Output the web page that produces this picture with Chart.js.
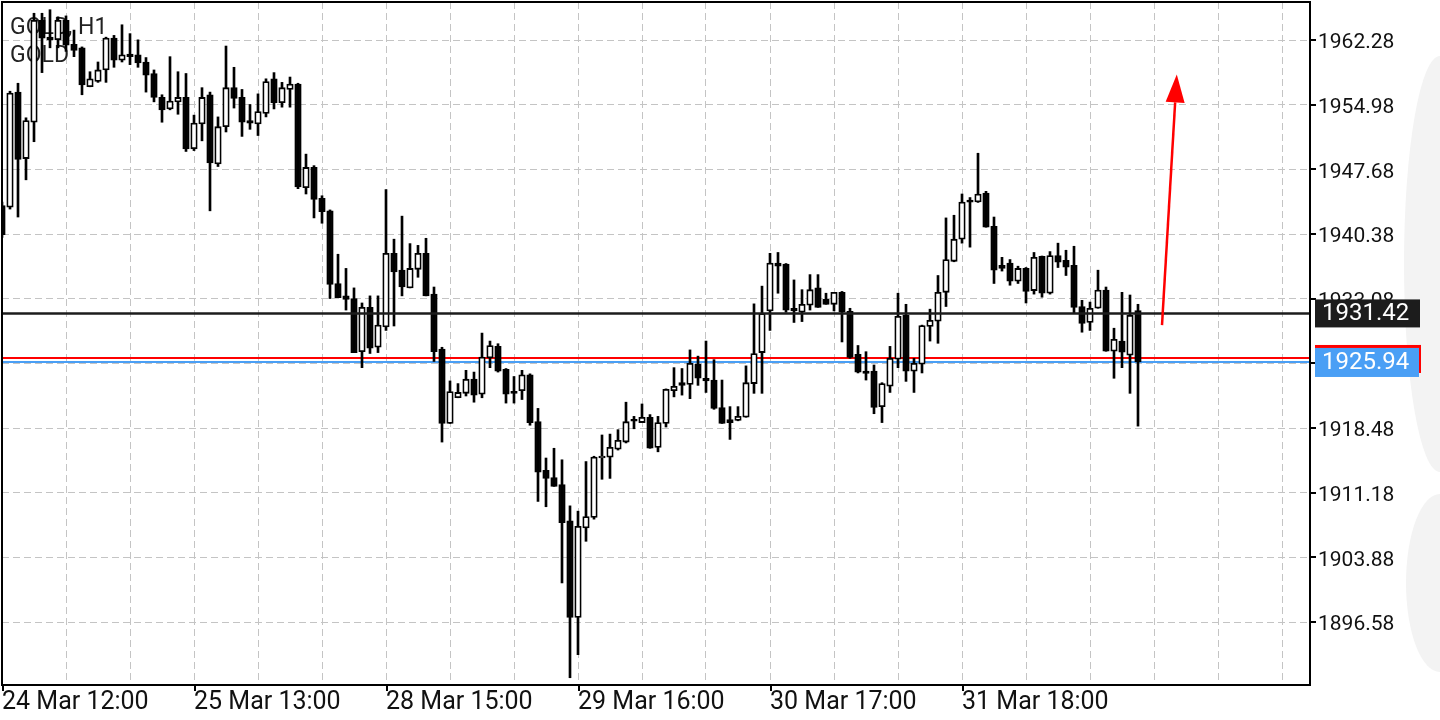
<!DOCTYPE html>
<html><head><meta charset="utf-8">
<script src="https://cdn.jsdelivr.net/npm/chart.js@4.4.1/dist/chart.umd.min.js"></script>
<style>
html,body{margin:0;padding:0;background:#fff;overflow:hidden;}
#wrap{position:relative;width:1440px;height:720px;}
.blob{position:absolute;background:#f3f3f3;}
canvas{position:absolute;left:0;top:0;}
</style></head><body>
<div id="wrap">
<div class="blob" style="left:1404px;top:56px;width:36px;height:416px;border-radius:36px 0 0 36px / 208px 0 0 208px;"></div>
<div class="blob" style="left:1406px;top:494px;width:34px;height:178px;border-radius:34px 0 0 34px / 89px 0 0 89px;"></div>
<canvas id="c" width="1440" height="720"></canvas>
</div>
<script>
const symbolTitle = 'GOLD, H1';
const symbolName = 'GOLD';

const opens = [1943.6,1943.4,1956.4,1948.9,1953.0,1964.5,1962.6,1962.3,1964.5,1961.8,
1961.4,1957.0,1957.6,1958.9,1962.5,1960.0,1960.7,1960.6,1959.8,1958.5,
1955.8,1954.5,1955.3,1955.8,1950.0,1952.8,1956.1,1948.3,1952.5,1956.9,
1955.8,1953.2,1952.8,1954.0,1957.9,1955.2,1956.7,1957.3,1945.6,1947.9,
1944.4,1943.0,1934.8,1933.4,1933.1,1927.1,1932.1,1927.6,1929.9,1938.2,
1936.3,1934.3,1936.4,1938.2,1933.6,1927.4,1919.0,1921.9,1922.4,1924.0,
1922.3,1926.4,1927.7,1925.1,1922.6,1922.7,1924.5,1919.2,1913.7,1912.9,
1912.1,1908.0,1897.1,1907.2,1908.4,1915.1,1915.2,1916.1,1916.9,1919.45,
1919.1,1919.7,1916.3,1919.0,1922.7,1923.6,1923.4,1925.7,1924.1,1923.9,
1920.8,1919.45,1919.35,1919.7,1923.5,1927.0,1931.7,1937.1,1937.0,1932.0,
1931.55,1932.35,1934.3,1933.0,1932.45,1933.8,1931.65,1926.8,1924.9,1924.9,
1920.9,1923.2,1926.25,1931.2,1924.9,1925.7,1929.95,1930.55,1933.8,1937.3,
1939.8,1944.2,1944.0,1945.0,1941.25,1936.85,1937.1,1935.05,1936.5,1934.0,
1937.85,1933.7,1937.95,1937.4,1936.85,1932.2,1930.4,1932.0,1934.05,1927.15,
1928.3,1926.7,1931.75];
const highs = [1944.0,1956.5,1957.4,1953.5,1965.3,1965.3,1965.7,1964.9,1965.0,1963.4,
1961.5,1958.7,1959.8,1962.6,1962.8,1964.0,1963.0,1962.3,1960.3,1958.9,
1956.1,1960.4,1958.7,1958.5,1953.8,1956.9,1956.4,1953.6,1961.6,1959.2,
1956.7,1955.0,1956.2,1957.9,1958.6,1957.5,1958.1,1957.4,1949.4,1948.1,
1944.7,1943.1,1938.1,1936.5,1934.3,1932.6,1933.4,1933.4,1945.4,1939.8,
1942.4,1939.3,1939.1,1939.9,1934.4,1927.6,1923.8,1923.5,1925.0,1924.8,
1929.2,1928.3,1928.0,1925.2,1924.3,1925.0,1924.6,1920.7,1915.1,1916.2,
1914.9,1909.7,1909.1,1914.7,1915.3,1917.7,1917.8,1918.3,1921.4,1919.8,
1921.2,1920.0,1919.8,1922.9,1925.3,1925.2,1927.3,1926.6,1928.3,1926.2,
1923.9,1920.9,1920.9,1925.5,1932.5,1934.5,1938.2,1938.3,1937.05,1935.2,
1934.1,1935.8,1935.8,1933.7,1933.8,1933.9,1932.0,1927.8,1927.1,1925.6,
1923.6,1927.7,1933.7,1932.45,1926.35,1930.1,1931.9,1935.7,1942.2,1942.5,
1944.9,1944.5,1949.5,1945.2,1942.3,1937.75,1937.5,1936.75,1936.6,1938.3,
1937.9,1938.4,1939.35,1938.55,1939.0,1932.9,1932.7,1936.3,1934.4,1929.75,
1933.8,1933.5,1932.45];
const lows = [1940.0,1943.2,1942.3,1946.5,1950.8,1958.6,1961.4,1961.4,1961.0,1960.4,
1956.1,1957.0,1957.5,1957.5,1959.2,1959.8,1959.5,1959.2,1956.4,1955.3,
1953.0,1954.4,1953.9,1949.7,1949.8,1950.9,1943.0,1948.0,1951.9,1954.6,
1951.4,1952.2,1951.5,1953.6,1954.5,1954.7,1954.7,1945.5,1944.9,1942.2,
1941.6,1933.1,1933.2,1931.8,1927.0,1925.3,1926.9,1927.0,1929.5,1930.0,
1933.4,1934.3,1935.5,1933.4,1926.0,1916.9,1919.0,1921.9,1922.1,1921.4,
1921.9,1925.3,1924.8,1921.3,1921.3,1921.7,1918.8,1910.2,1909.6,1911.9,
1901.0,1890.3,1892.9,1905.7,1908.2,1912.7,1912.8,1916.0,1916.8,1918.4,
1919.1,1916.2,1915.8,1918.6,1922.0,1922.2,1921.8,1923.3,1922.5,1920.6,
1919.0,1917.2,1919.3,1919.7,1922.4,1922.4,1929.5,1933.7,1931.55,1930.4,
1930.5,1931.8,1932.1,1932.45,1931.7,1928.2,1926.35,1924.7,1923.9,1920.1,
1919.1,1922.5,1925.3,1923.75,1922.5,1924.7,1928.3,1928.05,1932.2,1937.25,
1939.35,1938.9,1943.95,1941.15,1934.8,1936.2,1934.6,1934.8,1932.6,1933.6,
1933.25,1933.6,1936.6,1935.7,1931.45,1929.3,1929.5,1932.0,1927.15,1924.1,
1925.3,1922.4,1918.7];
const closes = [1940.3,1956.3,1948.8,1953.2,1964.5,1962.5,1962.3,1964.5,1961.7,1961.1,
1957.2,1957.9,1958.9,1962.5,1960.0,1960.6,1960.4,1959.7,1958.3,1955.8,
1954.4,1955.4,1955.8,1950.0,1952.9,1955.8,1948.4,1952.5,1956.9,1955.7,
1953.0,1952.9,1954.2,1957.6,1955.2,1956.9,1957.3,1945.7,1947.9,1944.3,
1942.9,1934.7,1933.2,1933.0,1927.0,1932.1,1927.5,1930.1,1938.2,1936.1,
1934.4,1936.5,1938.2,1933.4,1927.1,1919.0,1922.6,1922.5,1924.0,1922.2,
1926.5,1927.8,1924.9,1922.3,1922.4,1924.5,1919.1,1913.5,1912.8,1911.9,
1907.8,1897.1,1907.4,1908.5,1915.2,1915.2,1916.3,1917.1,1919.2,1919.25,
1919.7,1916.2,1919.1,1922.85,1923.2,1923.3,1925.8,1924.1,1923.8,1920.7,
1919.0,1919.1,1919.8,1923.6,1926.9,1931.4,1937.1,1936.75,1931.8,1931.7,
1932.45,1934.1,1932.1,1932.45,1933.8,1931.55,1926.45,1924.8,1924.65,1920.8,
1923.5,1926.35,1931.1,1924.9,1925.8,1930.05,1930.65,1933.8,1937.5,1939.8,
1944.0,1943.97,1944.9,1941.15,1936.3,1936.5,1935.05,1936.5,1933.9,1937.75,
1933.7,1937.95,1937.2,1936.65,1932.1,1930.3,1932.0,1934.05,1927.15,1928.5,
1927.05,1931.2,1925.94];

const tickIndex = [0, 24, 48, 72, 96, 120];
const tickLabels = ['24 Mar 12:00', '25 Mar 13:00', '28 Mar 15:00', '29 Mar 16:00', '30 Mar 17:00', '31 Mar 18:00'];
const priceTicks = [1962.28, 1954.98, 1947.68, 1940.38, 1933.08, 1925.78, 1918.48, 1911.18, 1903.88, 1896.58];

const levelPrice = 1931.42;
const askPrice = 1926.40;
const bidPrice = 1925.94;
const arrowStart = {x: 145.0, y: 1930.1};
const arrowEnd = {x: 146.85, y: 1958.4};

const yMax = 1966.57;
const yMin = 1889.48;
const xMax = 163.5;

const idx = opens.map((_, i) => i);
const wickData = idx.map(i => ({x: i, y: [lows[i], highs[i]]}));
const bodyData = idx.map(i => ({x: i, y: [Math.min(opens[i], closes[i]), Math.max(opens[i], closes[i])]}));
const bodyFill = idx.map(i => closes[i] >= opens[i] ? '#ffffff' : '#000000');

const overlay = {
  id: 'overlay',
  beforeDatasetsDraw(chart) {
    const {ctx, chartArea: a, scales: {y}} = chart;
    ctx.save();
    ctx.fillStyle = '#222';
    ctx.font = '23px Roboto';
    ctx.textBaseline = 'middle';
    ctx.textAlign = 'left';
    ctx.fillText(symbolTitle, 10, 28);
    ctx.fillText(symbolName, 10, 56);
    ctx.lineWidth = 2;
    ctx.strokeStyle = '#ff0000';
    let py = Math.round(y.getPixelForValue(askPrice));
    ctx.beginPath(); ctx.moveTo(a.left, py); ctx.lineTo(a.right, py); ctx.stroke();
    ctx.strokeStyle = '#4a9ff5';
    py = Math.round(y.getPixelForValue(bidPrice));
    ctx.beginPath(); ctx.moveTo(a.left, py); ctx.lineTo(a.right, py); ctx.stroke();
    ctx.restore();
  },
  afterDatasetsDraw(chart) {
    const {ctx, chartArea: a, scales: {x, y}} = chart;
    ctx.save();
    ctx.strokeStyle = '#1c1c1c';
    ctx.lineWidth = 2.5;
    const ly = y.getPixelForValue(levelPrice);
    ctx.beginPath(); ctx.moveTo(a.left, ly); ctx.lineTo(a.right, ly); ctx.stroke();
    const x1 = x.getPixelForValue(arrowStart.x), y1 = y.getPixelForValue(arrowStart.y);
    const x2 = x.getPixelForValue(arrowEnd.x), y2 = y.getPixelForValue(arrowEnd.y);
    const dx = x2 - x1, dy = y2 - y1, len = Math.hypot(dx, dy);
    const ux = dx / len, uy = dy / len, nx = -uy, ny = ux;
    const headL = 28, headW = 9.5;
    const bx = x2 - ux * headL, by = y2 - uy * headL;
    ctx.strokeStyle = '#ff0000'; ctx.fillStyle = '#ff0000';
    ctx.lineWidth = 2.5;
    ctx.beginPath(); ctx.moveTo(x1, y1); ctx.lineTo(bx, by); ctx.stroke();
    ctx.beginPath(); ctx.moveTo(x2, y2); ctx.lineTo(bx + nx * headW, by + ny * headW);
    ctx.lineTo(bx - nx * headW, by - ny * headW); ctx.closePath(); ctx.fill();
    ctx.strokeStyle = '#000';
    ctx.lineWidth = 2;
    ctx.strokeRect(a.left, a.top, a.right - a.left, a.bottom - a.top);
    ctx.restore();
  },
  afterDraw(chart) {
    const {ctx, chartArea: a, scales: {x, y}} = chart;
    ctx.save();
    ctx.strokeStyle = '#000';
    ctx.lineWidth = 2;
    priceTicks.forEach(v => {
      const py = Math.round(y.getPixelForValue(v));
      ctx.beginPath(); ctx.moveTo(a.right, py); ctx.lineTo(a.right + 6, py); ctx.stroke();
    });
    tickIndex.forEach(v => {
      const px = Math.round(x.getPixelForValue(v)) + 1;
      ctx.beginPath(); ctx.moveTo(px, a.bottom); ctx.lineTo(px, a.bottom + 6); ctx.stroke();
    });
    ctx.font = '24px Roboto';
    ctx.textBaseline = 'middle';
    ctx.textAlign = 'left';
    const ly = y.getPixelForValue(levelPrice);
    ctx.fillStyle = '#1c1c1c';
    ctx.fillRect(a.right + 5, ly - 14, 105, 28);
    ctx.fillStyle = '#ffffff';
    ctx.fillText(levelPrice.toFixed(2), a.right + 12, ly + 1);
    const by = y.getPixelForValue(bidPrice);
    ctx.fillStyle = '#ff0000';
    ctx.fillRect(a.right + 5, by - 17, 106, 3);
    ctx.fillRect(a.right + 109, by - 17, 2, 28);
    ctx.fillStyle = '#4a9ff5';
    ctx.fillRect(a.right + 5, by - 14, 104, 29);
    ctx.fillStyle = '#ffffff';
    ctx.fillText(bidPrice.toFixed(2), a.right + 12, by + 1);
    ctx.restore();
  }
};

new Chart(document.getElementById('c'), {
  type: 'bar',
  data: {
    datasets: [
      {data: wickData, backgroundColor: '#000000', borderWidth: 0, barThickness: 2, grouped: false, order: 2},
      {data: bodyData, backgroundColor: bodyFill, borderColor: '#000000', borderWidth: 1.8, borderSkipped: false,
       barThickness: 6.5, grouped: false, order: 1, minBarLength: 2}
    ]
  },
  options: {
    responsive: false,
    animation: false,
    events: [],
    layout: {padding: {left: 2, top: 2, right: 0, bottom: 0}},
    plugins: {legend: {display: false}, tooltip: {enabled: false}},
    scales: {
      x: {
        type: 'linear', min: 0, max: xMax, offset: false,
        grid: {color: '#c4c4c4', lineWidth: 1, drawTicks: false, offset: false},
        border: {display: false, dash: [7, 4]},
        afterBuildTicks: s => { const t = []; for (let v = 0; v <= 160; v += 8) t.push({value: v}); s.ticks = t; },
        afterFit: s => { s.height = 35; s.paddingLeft = 0; s.paddingRight = 0; },
        ticks: {
          autoSkip: false, maxRotation: 0, minRotation: 0, align: 'start', padding: 3,
          color: '#111', font: {family: 'Roboto', size: 25},
          callback: v => { const k = tickIndex.indexOf(v); return k >= 0 ? tickLabels[k] : ''; }
        }
      },
      y: {
        position: 'right', min: yMin, max: yMax, beginAtZero: false,
        grid: {color: '#c4c4c4', lineWidth: 1, drawTicks: false},
        border: {display: false, dash: [7, 4]},
        afterBuildTicks: s => { s.ticks = priceTicks.map(v => ({value: v})); },
        afterFit: s => { s.width = 130; s.paddingTop = 0; s.paddingBottom = 0; },
        ticks: {padding: 8, labelOffset: 3, color: '#111', font: {family: 'Roboto', size: 21}, callback: v => Number(v).toFixed(2)}
      }
    }
  },
  plugins: [overlay]
});
</script>
</body></html>
